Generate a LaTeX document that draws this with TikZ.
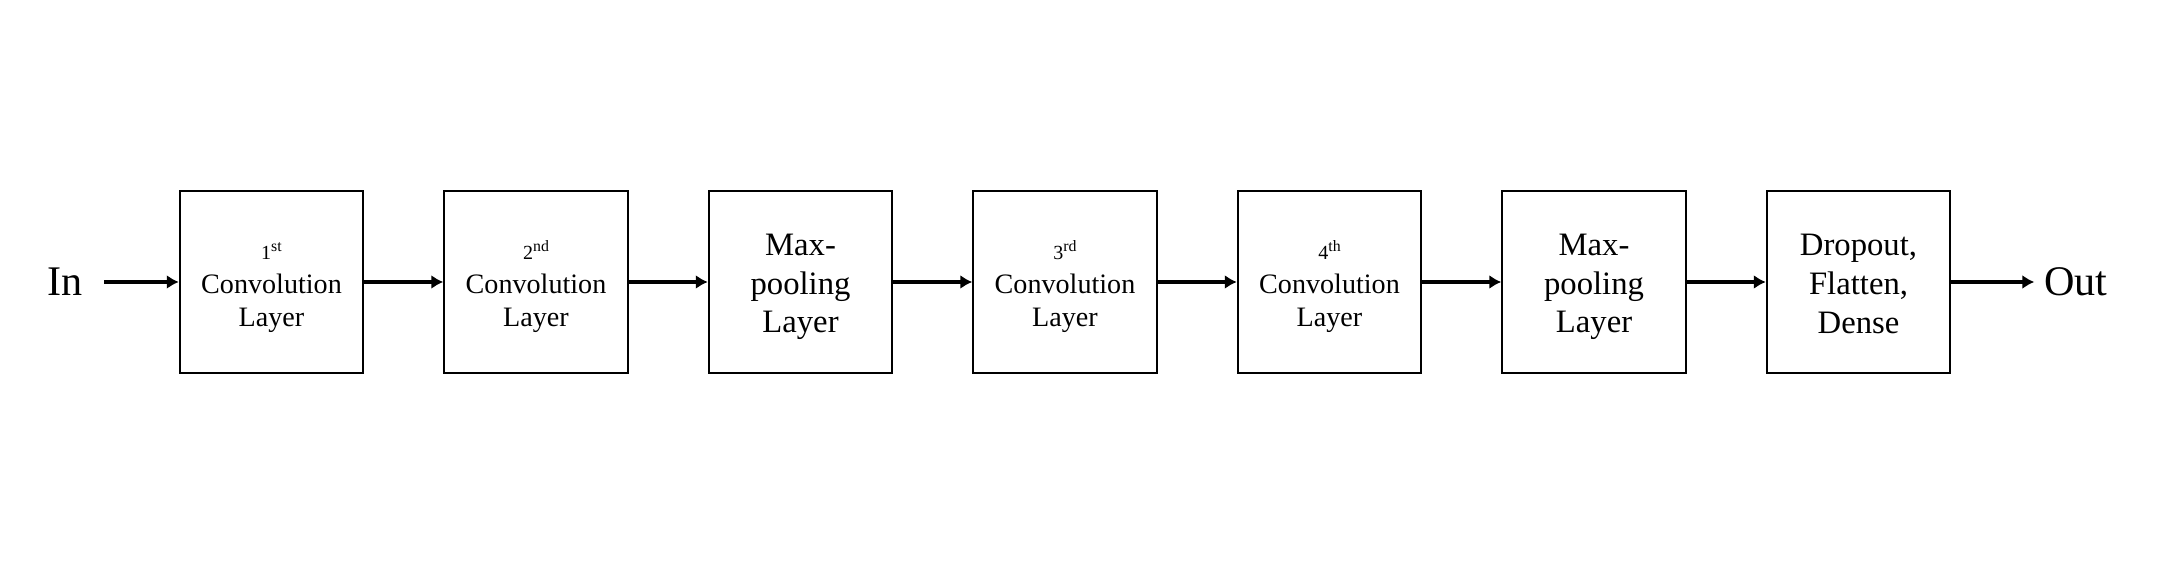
\documentclass[tikz,border=0pt]{standalone}
\usepackage{fontspec}
\setmainfont{Liberation Serif}
\usetikzlibrary{arrows.meta,positioning}

\newcommand{\lift}[1]{\rule{0pt}{#1}}
\newcommand{\ordnum}[2]{\lift{8pt}{\fontsize{5.7}{6}\selectfont #1\raisebox{0.4em}{\fontsize{4.5}{5}\selectfont #2}}}

\begin{document}
\begin{tikzpicture}[->,>={Latex[length=3.4pt,width=4pt]},line width=0.94pt,node distance=2.645cm,
layer/.style={draw,line width=0.57pt,minimum width=1.835cm,minimum height=1.82cm,align=center,inner sep=0pt},
conv/.style={layer,font=\fontsize{8}{9.4}\selectfont},
pool/.style={layer,font=\fontsize{9.3}{11}\selectfont},
io/.style={font=\fontsize{12}{14}\selectfont}]
\useasboundingbox (0,0) rectangle (21.66,5.63);
\node[conv] (c1) at (2.715,2.81) {\ordnum{1}{st}\\Convolution\\Layer};
\node[conv] [right of=c1](c2) {\ordnum{2}{nd}\\Convolution\\Layer};
\node[pool] [right of=c2](p1) {\lift{9pt}Max-\\pooling\\Layer};
\node[conv] [right of=p1](c3) {\ordnum{3}{rd}\\Convolution\\Layer};
\node[conv] [right of=c3](c4) {\ordnum{4}{th}\\Convolution\\Layer};
\node[pool] [right of=c4](p2) {\lift{9pt}Max-\\pooling\\Layer};
\node[pool] [right of=p2](dense) {\lift{7.2pt}Dropout,\\Flatten,\\Dense};
\node[io,inner xsep=5.6pt] [left of=c1,node distance=2.06cm](in) {In};
\node[io,inner xsep=2.4pt] [right of=dense,node distance=2.175cm](out) {Out};
\path (in)	edge	(c1)
(c1)	edge	(c2)
(c2)	edge	(p1)
(p1)	edge	(c3)
(c3)	edge	(c4)
(c4)	edge	(p2)
(p2)	edge	(dense)
(dense)	edge	(out)
;\end{tikzpicture}
\end{document}
